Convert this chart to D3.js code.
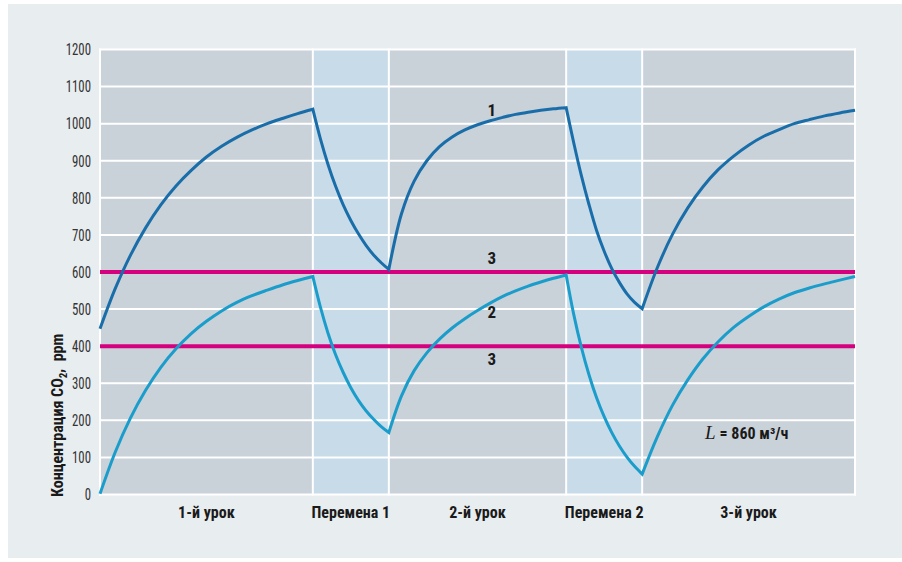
<!DOCTYPE html>
<html><head><meta charset="utf-8">
<script src="https://cdn.jsdelivr.net/npm/d3@7"></script>
<style>
body{margin:0;background:#fff}
svg{display:block}
text{font-family:"Liberation Sans Narrow","Roboto Condensed","DejaVu Sans Condensed","Arial Narrow",sans-serif}
</style>
</head><body>
<svg id="chart" width="902" height="562"></svg>
<script>
// ---- data ----
const yTicks = [0,100,200,300,400,500,600,700,800,900,1000,1100,1200];
const periodNames = ["1-й урок","Перемена 1","2-й урок","Перемена 2","3-й урок"];
const periodStart = [0,42,57,92,107];
const periodEnd   = [42,57,92,107,149];
const periodIsBreak = [false,true,false,true,false];

// sample times (minutes on the drawn axis)
const lesson1Time = [0,3,6,9,12,15,18,21,24,27,30,33,36,39,42];
const break1Time  = [43.5,45,46.5,48,49.5,51,52.5,54,55.5,57];
const lesson2Time = [59.5,62,64.5,67,69.5,72,74.5,77,79.5,82,84.5,87,89.5,92];
const break2Time  = [93.5,95,96.5,98,99.5,101,102.5,104,105.5,107];
const lesson3Time = [110,113,116,119,122,125,128,131,134,137,140,143,146,149];

// curve 1 (upper)
const curve1Lesson1 = [447,555,645,719,781,832,874,910,939,963,983,1000,1014,1027,1039];
const curve1Break1  = [959,890,831,781,739,703,672,646,625,607];
const curve1Lesson2 = [757,845,900,938,964,983,997,1008,1017,1025,1031,1036,1040,1043];
const curve1Break2  = [948,860,782,712,656,609,572,541,518,501];
const curve1Lesson3 = [612,702,773,830,876,912,942,966,984,1000,1011,1021,1029,1036];

// curve 2 (lower)
const curve2Lesson1 = [2,114,206,281,343,393,434,467,495,518,536,551,565,577,588];
const curve2Break1  = [505,435,377,329,288,254,226,203,183,167];
const curve2Lesson2 = [266,334,382,419,449,474,496,516,534,549,562,573,583,592];
const curve2Break2  = [485,397,323,261,210,167,131,101,76,55];
const curve2Lesson3 = [156,241,309,366,412,450,480,506,527,544,557,568,578,588];

const limitValues = [600,400];
const curveLabelText  = ["1","3","2","3"];
const curveLabelValue = [1021,622,476,349];
const noteText = "= 860 м³/ч";

// ---- drawing ----
const svg = d3.select("#chart");
const W = 902, H = 562;
svg.append("rect").attr("x",8).attr("y",4).attr("width",W-8).attr("height",H-8).attr("fill","#e8edf0");

const x = d3.scaleLinear().domain([0,149]).range([100,855]);
const y = d3.scaleLinear().domain([0,1200]).range([494.5,49.5]);

// period cells
svg.append("g").selectAll("rect").data(periodNames).join("rect")
  .attr("x",(d,i)=>x(periodStart[i]))
  .attr("y",y(1200))
  .attr("width",(d,i)=>x(periodEnd[i])-x(periodStart[i]))
  .attr("height",y(0)-y(1200))
  .attr("fill",(d,i)=>periodIsBreak[i] ? "#c8dbe8" : "#c9d1d9");

// horizontal grid
const grid = svg.append("g").attr("stroke","#ffffff").attr("stroke-width",2);
grid.selectAll("line.h").data(yTicks).join("line").attr("class","h")
  .attr("x1",x(0)-1).attr("x2",x(149)+1)
  .attr("y1",d=>y(d)).attr("y2",d=>y(d));
// vertical boundaries
const vb = [0].concat(periodEnd);
grid.selectAll("line.v").data(vb).join("line").attr("class","v")
  .attr("x1",d=>x(d)).attr("x2",d=>x(d))
  .attr("y1",y(1200)-1).attr("y2",y(0)+1);

// y tick labels (tall condensed digits)
svg.append("g").selectAll("text").data(yTicks).join("text")
  .attr("transform",d=>`translate(91,${y(d)}) scale(0.8,1)`)
  .attr("dy","0.36em")
  .attr("text-anchor","end").attr("font-size",16).attr("fill","#333")
  .text(d=>d);

// y title
const yt = svg.append("text")
  .attr("transform","translate(63,497) rotate(-90)")
  .attr("font-size",16).attr("font-weight","bold").attr("fill","#1a1a1a");
yt.append("tspan").text("Концентрация CO");
yt.append("tspan").attr("font-size",11).attr("dy",4).text("2");
yt.append("tspan").attr("dy",-4).text(",\u00a0\u00a0ppm");

// x labels
svg.append("g").selectAll("text").data(periodNames).join("text")
  .attr("x",(d,i)=>x((periodStart[i]+periodEnd[i])/2))
  .attr("y",518).attr("text-anchor","middle")
  .attr("font-size",16).attr("font-weight","bold").attr("fill","#1a1a1a")
  .text(d=>d);

// limit lines
svg.append("g").selectAll("line").data(limitValues).join("line")
  .attr("x1",x(0)).attr("x2",x(149))
  .attr("y1",d=>y(d)).attr("y2",d=>y(d))
  .attr("stroke","#d5007d").attr("stroke-width",4);

// curves: smooth within each period, sharp corners at boundaries
const segTimes = [lesson1Time, break1Time, lesson2Time, break2Time, lesson3Time];
function curvePath(segValues){
  const line = d3.line().x(d=>x(d[0])).y(d=>y(d[1])).curve(d3.curveCatmullRom.alpha(0.5));
  let d = "", last = null;
  segTimes.forEach((ts,i)=>{
    let pts = ts.map((t,j)=>[t, segValues[i][j]]);
    if (last) pts = [last].concat(pts);
    const p = line(pts);
    d += (i===0) ? p : p.replace(/^M/,"L");
    last = pts[pts.length-1];
  });
  return d;
}
svg.append("path").attr("d",curvePath([curve2Lesson1,curve2Break1,curve2Lesson2,curve2Break2,curve2Lesson3]))
  .attr("fill","none").attr("stroke","#1b9dcb").attr("stroke-width",3).attr("stroke-linejoin","miter");
svg.append("path").attr("d",curvePath([curve1Lesson1,curve1Break1,curve1Lesson2,curve1Break2,curve1Lesson3]))
  .attr("fill","none").attr("stroke","#196ea9").attr("stroke-width",3).attr("stroke-linejoin","miter");

// curve labels
svg.append("g").selectAll("text").data(curveLabelText).join("text")
  .attr("x",x(77.3)).attr("y",(d,i)=>y(curveLabelValue[i]))
  .attr("text-anchor","middle").attr("font-size",17).attr("font-weight","bold").attr("fill","#1a1a1a")
  .text(d=>d);

// note
const note = svg.append("text").attr("x",705).attr("y",439).attr("fill","#1a1a1a");
note.append("tspan").attr("font-family","'Liberation Serif','DejaVu Serif',serif").attr("font-style","italic").attr("font-size",19).text("L");
note.append("tspan").attr("font-size",16).attr("font-weight","bold").attr("dx",4).text(noteText);
</script>
</body></html>
